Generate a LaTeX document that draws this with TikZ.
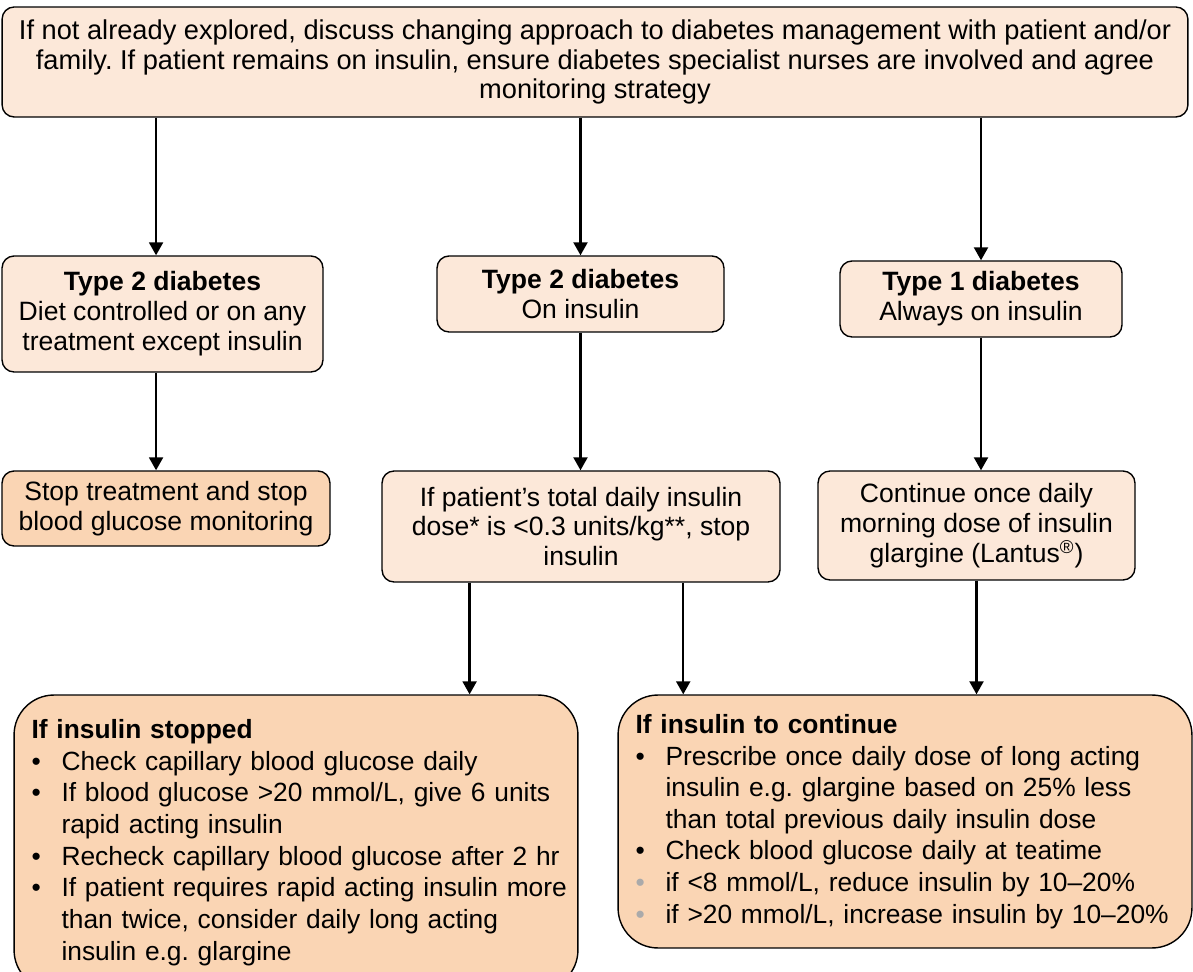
\documentclass[tikz,border=0pt]{standalone}
\usepackage{fontspec}
\setmainfont{Liberation Sans}
\usepackage{xcolor}
\usepackage{tikz}
\usetikzlibrary{arrows.meta,calc}
\frenchspacing

\definecolor{peachlt}{RGB}{252,232,217}
\definecolor{peachdk}{RGB}{250,213,180}
\definecolor{bulgray}{RGB}{170,170,170}

\newcommand{\bitem}[1]{\par\hangindent=0.6cm\hangafter=1\noindent\makebox[0.6cm][l]{\textbullet}#1}
\newcommand{\gitem}[1]{\par\hangindent=0.6cm\hangafter=1\noindent\makebox[0.6cm][l]{\textcolor{bulgray}{\textbullet}}#1}

\begin{document}
\begin{tikzpicture}[x=0.02cm,y=-0.02cm,
 box/.style={draw,line width=0.8pt,rounded corners=2.4mm,fill=peachlt,align=center,inner sep=0pt,
             font=\fontsize{15.1}{17}\selectfont},
 dark/.style={box,fill=peachdk},
 panel/.style={dark,rounded corners=8mm,align=left,inner xsep=0.35cm,font=\fontsize{15}{18}\selectfont},
 arr/.style={-{Triangle[length=2.6mm,width=2.8mm]},line width=1.25pt}
]
\useasboundingbox (0,0) rectangle (1193,972);
\clip (0,0) rectangle (1193,972);

\node[box,minimum width=23.72cm,minimum height=2.2cm,font=\fontsize{15.5}{17}\selectfont] (top) at (595,62)
  {If not already explored, discuss changing approach to diabetes management with patient and/or\\
   family. If patient remains on insulin, ensure diabetes specialist nurses are involved and agree\\
   monitoring strategy};

\node[box,minimum width=6.42cm,minimum height=2.32cm] (t2a) at (162.5,314)
  {\textbf{Type 2 diabetes}\\Diet controlled or on any\\treatment except insulin};
\node[box,minimum width=5.74cm,minimum height=1.52cm] (t2b) at (580.5,294)
  {\textbf{Type 2 diabetes}\\On insulin};
\node[box,minimum width=5.64cm,minimum height=1.52cm] (t1) at (981,299)
  {\textbf{Type 1 diabetes}\\Always on insulin};

\node[dark,minimum width=6.56cm,minimum height=1.5cm] (stop) at (166,508.5)
  {Stop treatment and stop\\blood glucose monitoring};
\node[box,minimum width=7.96cm,minimum height=2.22cm] (mid) at (581,526.5)
  {If patient’s total daily insulin\\dose* is <0.3 units/kg**, stop\\insulin};
\node[box,minimum width=6.34cm,minimum height=2.18cm] (cont) at (976.5,525.5)
  {Continue once daily\\morning dose of insulin\\glargine (Lantus\textsuperscript{\textregistered})};

\node[panel,text width=10.58cm,minimum width=11.28cm,minimum height=5.9cm] (stopped) at (296,842.5)
  {\textbf{If insulin stopped}
   \bitem{Check capillary blood glucose daily}
   \bitem{If blood glucose >20 mmol/L, give 6 units\newline rapid acting insulin}
   \bitem{Recheck capillary blood glucose after 2 hr}
   \bitem{\mbox{If patient requires rapid acting insulin more}\newline than twice, consider daily long acting\newline insulin e.g. glargine}\par};
\node[panel,text width=10.78cm,minimum width=11.48cm,minimum height=5.06cm] (goon) at (905,821.5)
  {\textbf{If insulin to continue}
   \bitem{Prescribe once daily dose of long acting\newline insulin e.g. glargine based on 25\% less\newline than total previous daily insulin dose}
   \bitem{Check blood glucose daily at teatime}
   \gitem{if <8 mmol/L, reduce insulin by 10–20\%}
   \gitem{if >20 mmol/L, increase insulin by 10–20\%}\par};

\coordinate (a1) at ($(t2a.north west)!0.48!(t2a.north east)$);
\coordinate (m1) at ($(mid.south west)!0.221!(mid.south east)$);
\coordinate (m2) at ($(mid.south west)!0.756!(mid.south east)$);

\draw[arr] (top.south -| a1) -- (a1);
\draw[arr] (top.south -| t2b.north) -- (t2b.north);
\draw[arr] (top.south -| t1.north) -- (t1.north);
\draw[arr] (a1 |- t2a.south) -- (a1 |- stop.north);
\draw[arr] (t2b.south) -- (t2b.south |- mid.north);
\draw[arr] (t1.south) -- (t1.south |- cont.north);
\draw[arr] (m1) -- (m1 |- stopped.north);
\draw[arr] (m2) -- (m2 |- goon.north);
\draw[arr] (cont.south) -- (cont.south |- goon.north);
\end{tikzpicture}
\end{document}
